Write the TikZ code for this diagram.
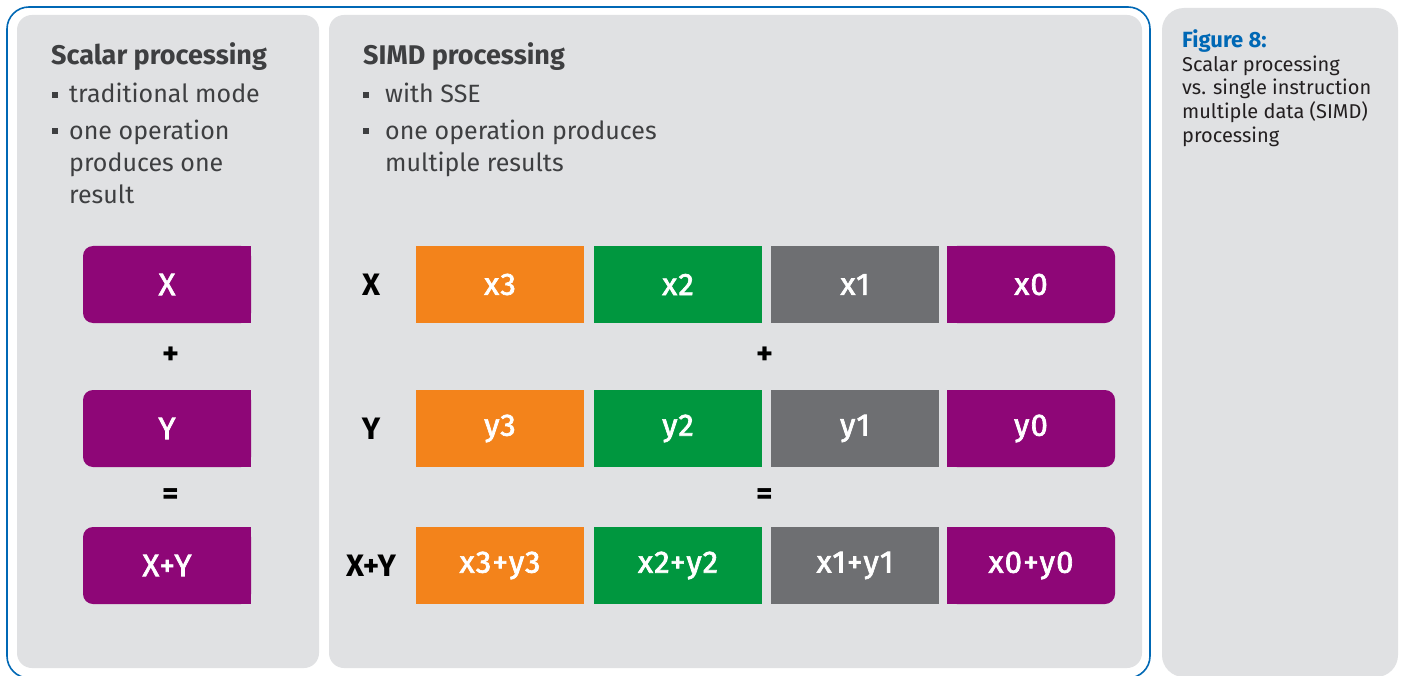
\documentclass[tikz,border=0pt]{standalone}
\usepackage{fontspec}
\setmainfont{Fira Sans}
\newfontfamily\cellfont[FakeBold=2.2,LetterSpace=4]{Fira Sans}
\usetikzlibrary{backgrounds}
\pgfdeclarelayer{cellbase}
\pgfsetlayers{background,cellbase,main}

\definecolor{panel}{HTML}{E0E1E3}
\definecolor{frameblue}{HTML}{0068B5}
\definecolor{cpurple}{HTML}{8E0677}
\definecolor{corange}{HTML}{F3831B}
\definecolor{cgreen}{HTML}{00973F}
\definecolor{cgray}{HTML}{6E6F72}
\definecolor{ink}{HTML}{3E3F41}
\definecolor{capink}{HTML}{231F20}

\tikzset{
  panelbox/.style={fill=panel, rounded corners=15pt},
  cell/.style={minimum width=168pt, minimum height=77pt, inner sep=0pt,
    text=white, font=\cellfont\fontsize{31}{34}\selectfont},
  rowlabel/.style={text=black, font=\fontsize{31}{34}\selectfont\bfseries, inner sep=0pt},
  opsign/.style={text=black, font=\fontsize{32}{34}\selectfont\bfseries, inner sep=0pt},
  head/.style={anchor=base west, inner sep=0pt, text=ink,
    font=\fontsize{27}{30}\selectfont\bfseries},
  bodytext/.style={anchor=base west, inner sep=0pt, text=ink,
    font=\fontsize{25}{30}\selectfont},
  bul/.style={fill=ink, minimum size=6pt, inner sep=0pt},
  captext/.style={anchor=base west, inner sep=0pt, text=capink,
    font=\fontsize{20}{24}\selectfont},
}

\begin{document}
\begin{tikzpicture}[x=1pt,y=-1pt]
\useasboundingbox (0,0) rectangle (1404,676);
\clip (0,0) rectangle (1404,676);

% outer frame and panels
\begin{pgfonlayer}{background}
  \fill[white] (0,0) rectangle (1404,676);
  \draw[frameblue, line width=1.6pt, rounded corners=22pt] (7,7) rectangle (1150,678);
  \fill[panelbox] (17,15) rectangle (319,668);
  \fill[panelbox] (329,15) rectangle (1142,668);
  \fill[panel, rounded corners=22pt] (1162,8) rectangle (1398,677);
\end{pgfonlayer}

% scalar panel text
\node[head] (shead) at (51,65) {Scalar processing};
\node[bul] (sb1) at (55,95) {};
\node[bodytext] (st1) at (69,103) {traditional mode};
\node[bul] (sb2) at (55,131) {};
\node[bodytext] (st2) at (69,140) {one operation};
\node[bodytext] (st3) at (69,172) {produces one};
\node[bodytext] (st4) at (69,204) {result};

% SIMD panel text
\node[head] (mhead) at (363,65) {SIMD processing};
\node[bul] (mb1) at (366,95) {};
\node[bodytext] (mt1) at (385,103) {with SSE};
\node[bul] (mb2) at (366,131) {};
\node[bodytext] (mt2) at (385,140) {one operation produces};
\node[bodytext] (mt3) at (385,172) {multiple results};

% caption
\node[captext, text=frameblue, font=\fontsize{22}{24}\selectfont\bfseries] (cap0) at (1182,48) {Figure 8:};
\node[captext] (cap1) at (1182,72) {Scalar processing};
\node[captext] (cap2) at (1182,95) {vs. single instruction};
\node[captext] (cap3) at (1182,119) {multiple data (SIMD)};
\node[captext] (cap4) at (1182,143) {processing};

% scalar cells
\node[cell, fill=cpurple, rounded corners=10pt] (sx) at (167,284.5) {X};
\node[cell, fill=cpurple, rounded corners=10pt] (sy) at (167,428.5) {Y};
\node[cell, fill=cpurple, rounded corners=10pt] (ss) at (167,565.5) {X+Y};
\node[opsign] (splus) at (171,356) {+};
\node[opsign] (seq) at (171,497) {=};

% SIMD row labels
\node[rowlabel] (lx) at (371,284.5) {X};
\node[rowlabel] (ly) at (371,428.5) {Y};
\node[rowlabel] (ls) at (371,565.5) {X+Y};

% SIMD cells
\node[cell, fill=corange] (x3) at (500,284.5) {x3};
\node[cell, fill=cgreen]  (x2) at (678,284.5) {x2};
\node[cell, fill=cgray]   (x1) at (855,284.5) {x1};
\node[cell, fill=cpurple, rounded corners=10pt] (x0) at (1031,284.5) {x0};

\node[cell, fill=corange] (y3) at (500,428.5) {y3};
\node[cell, fill=cgreen]  (y2) at (678,428.5) {y2};
\node[cell, fill=cgray]   (y1) at (855,428.5) {y1};
\node[cell, fill=cpurple, rounded corners=10pt] (y0) at (1031,428.5) {y0};

\node[cell, fill=corange] (s3) at (500,565.5) {x3+y3};
\node[cell, fill=cgreen]  (s2) at (678,565.5) {x2+y2};
\node[cell, fill=cgray]   (s1) at (855,565.5) {x1+y1};
\node[cell, fill=cpurple, rounded corners=10pt] (s0) at (1031,565.5) {x0+y0};

\node[opsign] (mplus) at (765,356) {+};
\node[opsign] (meq) at (765,497) {=};

% square off the inner sides of the rounded end cells
\begin{pgfonlayer}{cellbase}
  \foreach \c in {sx,sy,ss} \fill[cpurple] (\c.north) rectangle (\c.south east);
  \foreach \c in {x0,y0,s0} \fill[cpurple] (\c.north west) rectangle (\c.south);
\end{pgfonlayer}
\end{tikzpicture}
\end{document}
